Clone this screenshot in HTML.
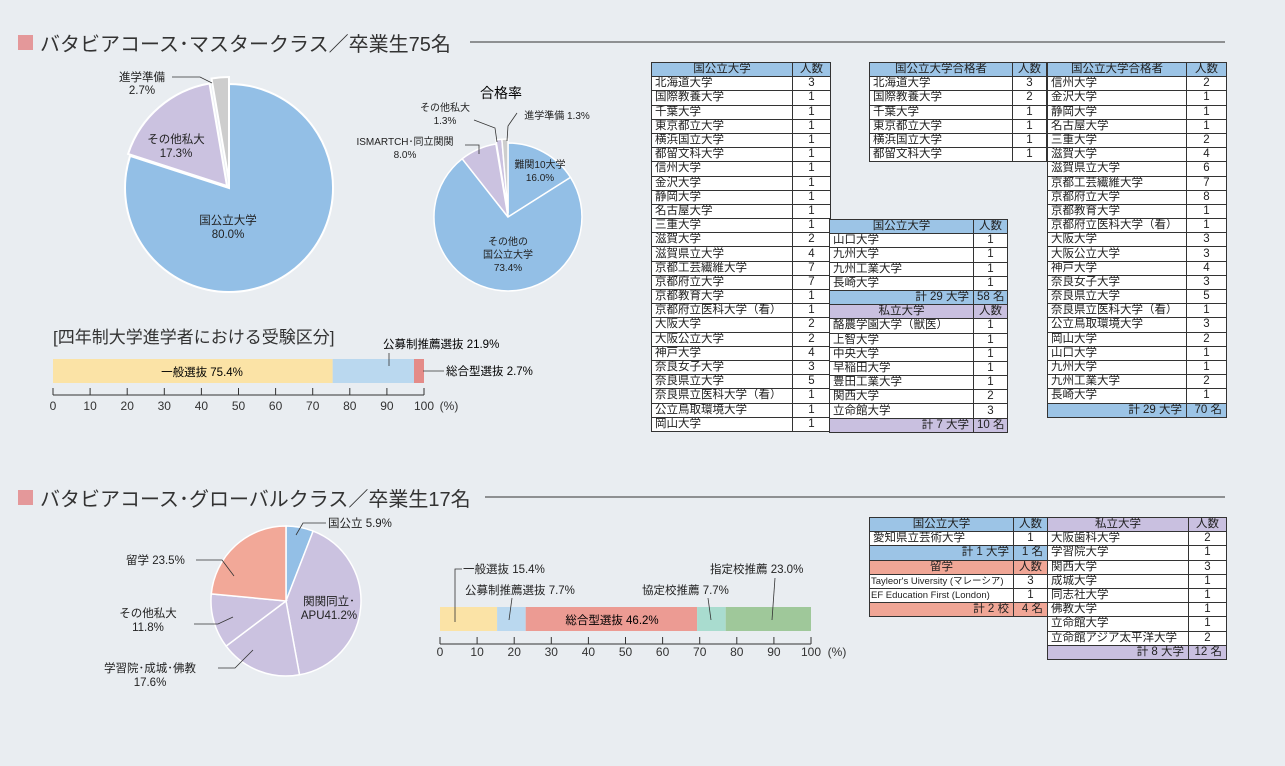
<!DOCTYPE html>
<html><head><meta charset="utf-8">
<style>
body{margin:0;width:1285px;height:766px;background:#e9edf1;position:relative;overflow:hidden;font-family:"Liberation Sans","Noto Sans CJK JP",sans-serif;color:#222}
svg{position:absolute;left:0;top:0}
table{position:absolute;border-collapse:collapse;font-size:11.5px;table-layout:fixed}
td{border:1px solid #333;height:13.2px;padding:0 3px;line-height:13px;background:#fff;white-space:nowrap;overflow:hidden}
td.c{text-align:center}
tr.hb td{background:#9cc4e6;text-align:center}
tr.hp td{background:#c9c0e0;text-align:center}
tr.hs td{background:#f0a696;text-align:center}
tr.tb td{background:#9cc4e6;text-align:right;padding-right:4px}
tr.tp td{background:#c9c0e0;text-align:right;padding-right:4px}
tr.ts td{background:#f0a696;text-align:right;padding-right:4px}
</style></head><body>
<svg width="1285" height="766" font-family="Liberation Sans, Noto Sans CJK JP, sans-serif">
<rect x="18" y="35" width="15" height="15" fill="#e4989a"/>
<text x="40" y="51" font-size="20" fill="#333">バタビアコース･マスタークラス／卒業生75名</text>
<line x1="470" y1="42" x2="1225" y2="42" stroke="#333" stroke-width="1"/>
<rect x="18" y="490" width="15" height="15" fill="#e4989a"/>
<text x="40" y="506" font-size="20" fill="#333">バタビアコース･グローバルクラス／卒業生17名</text>
<line x1="485" y1="497" x2="1225" y2="497" stroke="#333" stroke-width="1"/>

<g stroke="#fff" stroke-width="2">
<path d="M229,188 L211.5,85.5 A104,104 0 0 1 229,84 Z" fill="#cdcdcd" transform="translate(0,-7)"/>
<path d="M229,188 L130.1,155.9 A104,104 0 0 1 211.5,85.5 Z" fill="#cbc2e0" transform="translate(-2,-2)"/>
<path d="M229,188 L229,84 A104,104 0 1 1 130.1,155.9 Z" fill="#93bfe6"/>
</g>
<g font-size="11.5" text-anchor="middle" fill="#222">
<text x="228" y="224">国公立大学</text><text x="228" y="238">80.0%</text>
<text x="176" y="143">その他私大</text><text x="176" y="157">17.3%</text>
<text x="142" y="81">進学準備</text><text x="142" y="94">2.7%</text>
</g>
<polyline points="172,77 200,77 212,83" fill="none" stroke="#333" stroke-width="0.8"/>

<text x="501" y="98" font-size="14" text-anchor="middle">合格率</text>
<g stroke="#fff" stroke-width="1.5">
<path d="M508,217 L508,143 A74,74 0 0 1 570.5,177.4 Z" fill="#93bfe6"/>
<path d="M508,217 L570.5,177.4 A74,74 0 1 1 462.2,158.8 Z" fill="#93bfe6"/>
<path d="M508,217 L462.2,158.8 A74,74 0 0 1 495.9,144 Z" fill="#cbc2e0"/>
<path d="M508,217 L495.9,144 A74,74 0 0 1 501.9,143.3 Z" fill="#cbc2e0" transform="translate(0,-4)"/>
<path d="M508,217 L501.9,143.3 A74,74 0 0 1 508,143 Z" fill="#cdcdcd" transform="translate(0,-4)"/>
</g>
<g font-size="10" text-anchor="middle" fill="#222">
<text x="540" y="168">難関10大学</text><text x="540" y="181">16.0%</text>
<text x="508" y="245">その他の</text><text x="508" y="258">国公立大学</text><text x="508" y="271">73.4%</text>
<text x="405" y="145">ISMARTCH･同立関関</text><text x="405" y="158">8.0%</text>
<text x="445" y="111">その他私大</text><text x="445" y="124">1.3%</text>
<text x="557" y="119">進学準備 1.3%</text>
</g>
<g fill="none" stroke="#333" stroke-width="0.8">
<polyline points="465,145 479,145 479,154"/>
<polyline points="474,120 495,128 497,142"/>
<polyline points="517,113 508,126 507,141"/>
</g>

<text x="53" y="343" font-size="17" fill="#333">[四年制大学進学者における受験区分]</text>
<rect x="53" y="359" width="279.7" height="24" fill="#fbe3a6"/>
<rect x="332.7" y="359" width="81.3" height="24" fill="#bad8ef"/>
<rect x="414" y="359" width="10" height="24" fill="#e48b88"/>
<text x="202" y="376" font-size="11.5" text-anchor="middle">一般選抜 75.4%</text>
<text x="383" y="348" font-size="11.5">公募制推薦選抜 21.9%</text>
<line x1="389" y1="353" x2="389" y2="366" stroke="#333" stroke-width="0.8"/>
<line x1="423" y1="371" x2="444" y2="371" stroke="#333" stroke-width="0.8"/>
<text x="446" y="375" font-size="11.5">総合型選抜 2.7%</text>
<g stroke="#333" stroke-width="1">
<line x1="53" y1="395" x2="424" y2="395"/>
<line x1="53" y1="388" x2="53" y2="395"/><line x1="90.1" y1="388" x2="90.1" y2="395"/><line x1="127.2" y1="388" x2="127.2" y2="395"/><line x1="164.3" y1="388" x2="164.3" y2="395"/><line x1="201.4" y1="388" x2="201.4" y2="395"/><line x1="238.5" y1="388" x2="238.5" y2="395"/><line x1="275.6" y1="388" x2="275.6" y2="395"/><line x1="312.7" y1="388" x2="312.7" y2="395"/><line x1="349.8" y1="388" x2="349.8" y2="395"/><line x1="386.9" y1="388" x2="386.9" y2="395"/><line x1="424" y1="388" x2="424" y2="395"/>
</g>
<g font-size="12" text-anchor="middle" fill="#333">
<text x="53" y="410">0</text><text x="90.1" y="410">10</text><text x="127.2" y="410">20</text><text x="164.3" y="410">30</text><text x="201.4" y="410">40</text><text x="238.5" y="410">50</text><text x="275.6" y="410">60</text><text x="312.7" y="410">70</text><text x="349.8" y="410">80</text><text x="386.9" y="410">90</text><text x="424" y="410">100</text>
<text x="449" y="410">(%)</text>
</g>

<g stroke="#fff" stroke-width="1.5">
<path d="M286,601 L286,526 A75,75 0 0 1 313.1,531.1 Z" fill="#93bfe6"/>
<path d="M286,601 L313.1,531.1 A75,75 0 0 1 299.5,674.8 Z" fill="#cbc2e0"/>
<path d="M286,601 L299.5,674.8 A75,75 0 0 1 226.1,646.1 Z" fill="#cbc2e0"/>
<path d="M286,601 L226.1,646.1 A75,75 0 0 1 211.3,593.9 Z" fill="#cbc2e0"/>
<path d="M286,601 L211.3,593.9 A75,75 0 0 1 286,526 Z" fill="#f2a898"/>
</g>
<g font-size="11.5" fill="#222">
<text x="328" y="527">国公立 5.9%</text>
<text x="126" y="564">留学 23.5%</text>
<text x="329" y="605" text-anchor="middle">関関同立･</text><text x="329" y="619" text-anchor="middle">APU41.2%</text>
<text x="148" y="617" text-anchor="middle">その他私大</text><text x="148" y="631" text-anchor="middle">11.8%</text>
<text x="150" y="672" text-anchor="middle">学習院･成城･佛教</text><text x="150" y="686" text-anchor="middle">17.6%</text>
</g>
<g fill="none" stroke="#333" stroke-width="0.8">
<polyline points="326,523 303,523 296,535"/>
<polyline points="196,560 222,560 234,576"/>
<polyline points="194,624 218,624 233,617"/>
<polyline points="218,668 235,668 253,650"/>
</g>

<rect x="440" y="607" width="57.1" height="24" fill="#fbe3a6"/>
<rect x="497.1" y="607" width="28.6" height="24" fill="#bad8ef"/>
<rect x="525.7" y="607" width="171.4" height="24" fill="#ec9b93"/>
<rect x="697.1" y="607" width="28.6" height="24" fill="#a9dccf"/>
<rect x="725.7" y="607" width="85.3" height="24" fill="#9fc89a"/>
<text x="612" y="624" font-size="11.5" text-anchor="middle">総合型選抜 46.2%</text>
<g font-size="11.5" fill="#222">
<text x="463" y="573">一般選抜 15.4%</text>
<text x="465" y="594">公募制推薦選抜 7.7%</text>
<text x="642" y="594">協定校推薦 7.7%</text>
<text x="710" y="573">指定校推薦 23.0%</text>
</g>
<g fill="none" stroke="#333" stroke-width="0.8">
<polyline points="462,569 455,569 455,622"/>
<line x1="512" y1="598" x2="509" y2="620"/>
<line x1="708" y1="598" x2="711" y2="620"/>
<line x1="775" y1="578" x2="772" y2="620"/>
</g>
<g stroke="#333" stroke-width="1">
<line x1="440" y1="644" x2="811" y2="644"/>
<line x1="440" y1="637" x2="440" y2="644"/><line x1="477.1" y1="637" x2="477.1" y2="644"/><line x1="514.2" y1="637" x2="514.2" y2="644"/><line x1="551.3" y1="637" x2="551.3" y2="644"/><line x1="588.4" y1="637" x2="588.4" y2="644"/><line x1="625.5" y1="637" x2="625.5" y2="644"/><line x1="662.6" y1="637" x2="662.6" y2="644"/><line x1="699.7" y1="637" x2="699.7" y2="644"/><line x1="736.8" y1="637" x2="736.8" y2="644"/><line x1="773.9" y1="637" x2="773.9" y2="644"/><line x1="811" y1="637" x2="811" y2="644"/>
</g>
<g font-size="12" text-anchor="middle" fill="#333">
<text x="440" y="656">0</text><text x="477.1" y="656">10</text><text x="514.2" y="656">20</text><text x="551.3" y="656">30</text><text x="588.4" y="656">40</text><text x="625.5" y="656">50</text><text x="662.6" y="656">60</text><text x="699.7" y="656">70</text><text x="736.8" y="656">80</text><text x="773.9" y="656">90</text><text x="811" y="656">100</text>
<text x="837" y="656">(%)</text>
</g>
</svg>

<table style="left:651px;top:62px;width:179px">
<colgroup><col style="width:141px"><col style="width:38px"></colgroup>
<tr class="hb"><td>国公立大学</td><td>人数</td></tr>
<tr><td>北海道大学</td><td class="c">3</td></tr>
<tr><td>国際教養大学</td><td class="c">1</td></tr>
<tr><td>千葉大学</td><td class="c">1</td></tr>
<tr><td>東京都立大学</td><td class="c">1</td></tr>
<tr><td>横浜国立大学</td><td class="c">1</td></tr>
<tr><td>都留文科大学</td><td class="c">1</td></tr>
<tr><td>信州大学</td><td class="c">1</td></tr>
<tr><td>金沢大学</td><td class="c">1</td></tr>
<tr><td>静岡大学</td><td class="c">1</td></tr>
<tr><td>名古屋大学</td><td class="c">1</td></tr>
<tr><td>三重大学</td><td class="c">1</td></tr>
<tr><td>滋賀大学</td><td class="c">2</td></tr>
<tr><td>滋賀県立大学</td><td class="c">4</td></tr>
<tr><td>京都工芸繊維大学</td><td class="c">7</td></tr>
<tr><td>京都府立大学</td><td class="c">7</td></tr>
<tr><td>京都教育大学</td><td class="c">1</td></tr>
<tr><td>京都府立医科大学（看）</td><td class="c">1</td></tr>
<tr><td>大阪大学</td><td class="c">2</td></tr>
<tr><td>大阪公立大学</td><td class="c">2</td></tr>
<tr><td>神戸大学</td><td class="c">4</td></tr>
<tr><td>奈良女子大学</td><td class="c">3</td></tr>
<tr><td>奈良県立大学</td><td class="c">5</td></tr>
<tr><td>奈良県立医科大学（看）</td><td class="c">1</td></tr>
<tr><td>公立鳥取環境大学</td><td class="c">1</td></tr>
<tr><td>岡山大学</td><td class="c">1</td></tr>
</table>

<table style="left:829px;top:219px;width:178px">
<colgroup><col style="width:144px"><col style="width:34px"></colgroup>
<tr class="hb"><td>国公立大学</td><td>人数</td></tr>
<tr><td>山口大学</td><td class="c">1</td></tr>
<tr><td>九州大学</td><td class="c">1</td></tr>
<tr><td>九州工業大学</td><td class="c">1</td></tr>
<tr><td>長崎大学</td><td class="c">1</td></tr>
<tr class="tb"><td>計 29 大学</td><td>58 名</td></tr>
<tr class="hp"><td>私立大学</td><td>人数</td></tr>
<tr><td>酪農学園大学（獣医）</td><td class="c">1</td></tr>
<tr><td>上智大学</td><td class="c">1</td></tr>
<tr><td>中央大学</td><td class="c">1</td></tr>
<tr><td>早稲田大学</td><td class="c">1</td></tr>
<tr><td>豊田工業大学</td><td class="c">1</td></tr>
<tr><td>関西大学</td><td class="c">2</td></tr>
<tr><td>立命館大学</td><td class="c">3</td></tr>
<tr class="tp"><td>計 7 大学</td><td>10 名</td></tr>
</table>

<table style="left:869px;top:62px;width:177px">
<colgroup><col style="width:143px"><col style="width:34px"></colgroup>
<tr class="hb"><td>国公立大学合格者</td><td>人数</td></tr>
<tr><td>北海道大学</td><td class="c">3</td></tr>
<tr><td>国際教養大学</td><td class="c">2</td></tr>
<tr><td>千葉大学</td><td class="c">1</td></tr>
<tr><td>東京都立大学</td><td class="c">1</td></tr>
<tr><td>横浜国立大学</td><td class="c">1</td></tr>
<tr><td>都留文科大学</td><td class="c">1</td></tr>
</table>

<table style="left:1047px;top:62px;width:179px">
<colgroup><col style="width:139px"><col style="width:40px"></colgroup>
<tr class="hb"><td>国公立大学合格者</td><td>人数</td></tr>
<tr><td>信州大学</td><td class="c">2</td></tr>
<tr><td>金沢大学</td><td class="c">1</td></tr>
<tr><td>静岡大学</td><td class="c">1</td></tr>
<tr><td>名古屋大学</td><td class="c">1</td></tr>
<tr><td>三重大学</td><td class="c">2</td></tr>
<tr><td>滋賀大学</td><td class="c">4</td></tr>
<tr><td>滋賀県立大学</td><td class="c">6</td></tr>
<tr><td>京都工芸繊維大学</td><td class="c">7</td></tr>
<tr><td>京都府立大学</td><td class="c">8</td></tr>
<tr><td>京都教育大学</td><td class="c">1</td></tr>
<tr><td>京都府立医科大学（看）</td><td class="c">1</td></tr>
<tr><td>大阪大学</td><td class="c">3</td></tr>
<tr><td>大阪公立大学</td><td class="c">3</td></tr>
<tr><td>神戸大学</td><td class="c">4</td></tr>
<tr><td>奈良女子大学</td><td class="c">3</td></tr>
<tr><td>奈良県立大学</td><td class="c">5</td></tr>
<tr><td>奈良県立医科大学（看）</td><td class="c">1</td></tr>
<tr><td>公立鳥取環境大学</td><td class="c">3</td></tr>
<tr><td>岡山大学</td><td class="c">2</td></tr>
<tr><td>山口大学</td><td class="c">1</td></tr>
<tr><td>九州大学</td><td class="c">1</td></tr>
<tr><td>九州工業大学</td><td class="c">2</td></tr>
<tr><td>長崎大学</td><td class="c">1</td></tr>
<tr class="tb"><td>計 29 大学</td><td>70 名</td></tr>
</table>

<table style="left:869px;top:517px;width:178px">
<colgroup><col style="width:144px"><col style="width:34px"></colgroup>
<tr class="hb"><td>国公立大学</td><td>人数</td></tr>
<tr><td>愛知県立芸術大学</td><td class="c">1</td></tr>
<tr class="tb"><td>計 1 大学</td><td>1 名</td></tr>
<tr class="hs"><td>留学</td><td>人数</td></tr>
<tr><td style="font-size:9.5px;padding:0 1px">Tayleor's Uiversity (マレーシア)</td><td class="c">3</td></tr>
<tr><td style="font-size:9.5px;padding:0 1px">EF Education First (London)</td><td class="c">1</td></tr>
<tr class="ts"><td>計 2 校</td><td>4 名</td></tr>
</table>

<table style="left:1047px;top:517px;width:179px">
<colgroup><col style="width:141px"><col style="width:38px"></colgroup>
<tr class="hp"><td>私立大学</td><td>人数</td></tr>
<tr><td>大阪歯科大学</td><td class="c">2</td></tr>
<tr><td>学習院大学</td><td class="c">1</td></tr>
<tr><td>関西大学</td><td class="c">3</td></tr>
<tr><td>成城大学</td><td class="c">1</td></tr>
<tr><td>同志社大学</td><td class="c">1</td></tr>
<tr><td>佛教大学</td><td class="c">1</td></tr>
<tr><td>立命館大学</td><td class="c">1</td></tr>
<tr><td>立命館アジア太平洋大学</td><td class="c">2</td></tr>
<tr class="tp"><td>計 8 大学</td><td>12 名</td></tr>
</table>
</body></html>
